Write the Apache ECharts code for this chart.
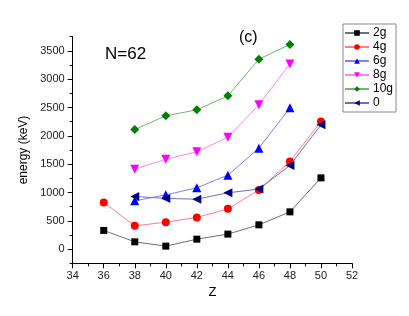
<!DOCTYPE html>
<html><head><meta charset="utf-8">
<script src="https://cdn.jsdelivr.net/npm/echarts@6/dist/echarts.min.js"></script>
<style>html,body{margin:0;padding:0;background:#fff}#c{width:409px;height:316px}</style>
</head><body><div id="c"></div>
<script>
const zValues = [36, 38, 40, 42, 44, 46, 48, 50];
const seriesNames = ['2g', '4g', '6g', '8g', '10g', '0'];
const e2g  = [330, 129, 53, 176, 265, 429, 658, 1258];
const e4g  = [824, 411, 476, 559, 711, 1045, 1548, 2254];
const e6g  = [null, 853, 958, 1082, 1306, 1782, 2494, null];
const e8g  = [null, 1412, 1588, 1717, 1976, 2547, 3270, null];
const e10g = [null, 2112, 2353, 2459, 2706, 3353, 3613, null];
const e0   = [null, 930, 895, 882, 994, 1060, 1477, 2194];
const yMajorTicks = [0, 500, 1000, 1500, 2000, 2500, 3000, 3500];
const yMinorTicks = [-250, 250, 750, 1250, 1750, 2250, 2750, 3250, 3750];

const values = [e2g, e4g, e6g, e8g, e10g, e0];
const styles = [
  {m:'#000000', l:'#707070', s:'rect', size:7, rot:0},
  {m:'#ff0000', l:'#ff8080', s:'circle', size:8, rot:0},
  {m:'#0000ff', l:'#8080ff', s:'triangle', size:9, rot:0},
  {m:'#ff00ff', l:'#ff80ff', s:'triangle', size:9, rot:180},
  {m:'#008000', l:'#70b870', s:'diamond', size:9, rot:0},
  {m:'#000080', l:'#7070b0', s:'triangle', size:9, rot:90}
];
function pairs(arr){ const out=[]; arr.forEach((v,i)=>{ if(v!==null) out.push([zValues[i], v]); }); return out; }

const font = 'Liberation Sans, Arial, sans-serif';
const chart = echarts.init(document.getElementById('c'), null, {renderer:'canvas'});
chart.setOption({
  animation:false,
  backgroundColor:'#fff',
  grid:{left:72.7, right:57, top:36.7, bottom:52.7, containLabel:false},
  title:[
    {text:'N=62', left:100, top:41, textStyle:{fontFamily:font, fontSize:17, fontWeight:'normal', color:'#000'}},
    {text:'(c)', left:234, top:25, textStyle:{fontFamily:font, fontSize:16, fontWeight:'normal', color:'#000'}}
  ],
  legend:{
    orient:'vertical', left:343, top:24, itemWidth:24, itemHeight:7, itemGap:0,
    padding:[2,3,2,1], borderColor:'#888', borderWidth:1, borderRadius:0,
    textStyle:{fontFamily:font, fontSize:12, color:'#000', lineHeight:14, padding:[0,0,0,-1]},
    data: seriesNames
  },
  xAxis:{
    type:'value', min:34, max:52, interval:2,
    name:'Z', nameLocation:'middle', nameGap:21,
    nameTextStyle:{fontFamily:font, fontSize:13, color:'#000'},
    axisLine:{show:true, onZero:false, lineStyle:{color:'#000', width:1}},
    axisTick:{show:true, inside:false, length:5, lineStyle:{color:'#000'}},
    minorTick:{show:true, splitNumber:2, length:3, lineStyle:{color:'#000'}},
    axisLabel:{fontFamily:font, fontSize:11, color:'#222', margin:7},
    splitLine:{show:false}
  },
  yAxis:[
    {
      type:'value', min:-250, max:3750,
      name:'energy (keV)', nameLocation:'middle', nameGap:29, nameRotate:90,
      nameTextStyle:{fontFamily:font, fontSize:12, color:'#000'},
      axisLine:{show:true, onZero:false, lineStyle:{color:'#000', width:1}},
      axisTick:{show:true, inside:false, length:5, customValues:yMajorTicks, lineStyle:{color:'#000'}},
      axisLabel:{fontFamily:font, fontSize:11, color:'#222', margin:8, customValues:yMajorTicks,
        formatter:(v)=>String(v)},
      splitLine:{show:false}
    },
    {
      type:'value', min:-250, max:3750, position:'left', offset:0,
      axisLine:{show:true, onZero:false, lineStyle:{color:'#000', width:1}},
      axisTick:{show:true, inside:false, length:3, customValues:yMinorTicks, lineStyle:{color:'#000'}},
      axisLabel:{show:false},
      splitLine:{show:false}
    }
  ],
  series: seriesNames.map((n,i)=>({
    name:n, type:'line', yAxisIndex:0, data:pairs(values[i]),
    symbol:styles[i].s, symbolSize:styles[i].size, symbolRotate:styles[i].rot,
    itemStyle:{color:styles[i].m},
    lineStyle:{color:styles[i].l, width:1},
    z: 2 + i
  }))
});
</script></body></html>
